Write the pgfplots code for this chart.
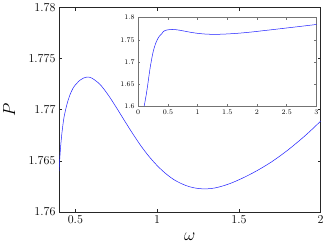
\documentclass[border=0pt]{standalone}
\usepackage{pgfplots}
\pgfplotsset{compat=1.18}
\usepackage{pgfplotstable}

% P(omega)
\pgfplotstableread{
x y
0.400 1.7640
0.408 1.7660
0.417 1.7676
0.430 1.7692
0.448 1.7705
0.468 1.7715
0.489 1.7722
0.510 1.7726
0.529 1.7729
0.550 1.7731
0.571 1.7732
0.600 1.7731
0.650 1.77249
0.700 1.77146
0.750 1.77023
0.800 1.76894
0.850 1.76767
0.900 1.76648
0.950 1.76543
1.000 1.76453
1.050 1.76378
1.100 1.76318
1.150 1.76275
1.200 1.76245
1.250 1.76229
1.300 1.76225
1.350 1.76233
1.400 1.76253
1.450 1.76280
1.500 1.76314
1.550 1.76352
1.600 1.76394
1.650 1.76440
1.700 1.76490
1.750 1.76546
1.800 1.76606
1.850 1.76671
1.900 1.76739
1.950 1.76812
2.000 1.76889
}\maindata

\pgfplotstableread{
x y
0.100 1.600
0.130 1.622
0.160 1.648
0.200 1.686
0.250 1.722
0.300 1.744
0.350 1.757
0.400 1.7640
}\risedata

\pgfplotstableread{
x y
2.000 1.76889
2.250 1.7727
2.500 1.7766
2.750 1.7805
3.000 1.7845
}\taildata

\definecolor{curve}{RGB}{30,30,255}

\begin{document}
\begin{tikzpicture}
\begin{axis}[
  name=main, at={(0,0)}, anchor=south west,
  scale only axis, width=260pt, height=203pt,
  xmin=0.4, xmax=2, ymin=1.76, ymax=1.78,
  xtick={0.5,1,1.5,2}, xticklabels={0.5,1,1.5,2},
  ytick={1.76,1.765,1.77,1.775,1.78},
  yticklabels={1.76,1.765,1.77,1.775,1.78},
  tick align=inside, major tick length=3pt,
  axis line style={black!85, line width=0.6pt},
  tick style={black!85, line width=0.5pt},
  ticklabel style={font=\fontsize{12}{14}\selectfont},
  xlabel={$\omega$}, ylabel={$P$},
  label style={font=\LARGE},
  xlabel style={at={(axis description cs:0.5,-0.12)}, anchor=center},
  ylabel style={at={(axis description cs:-0.19,0.5)}, anchor=center},
]
\addplot[curve, line width=0.5pt, smooth] table {\maindata};
\end{axis}

\begin{axis}[
  at={(78.7pt,105pt)}, anchor=south west,
  scale only axis, width=177pt, height=88pt,
  xmin=0, xmax=3, ymin=1.6, ymax=1.8,
  xtick={0,0.5,1,1.5,2,2.5,3}, xticklabels={0,0.5,1,1.5,2,2.5,3},
  ytick={1.6,1.65,1.7,1.75,1.8}, yticklabels={1.6,1.65,1.7,1.75,1.8},
  tick align=inside, major tick length=2pt,
  axis background/.style={fill=white},
  axis line style={black!55, line width=0.6pt},
  tick style={black!55, line width=0.4pt},
  ticklabel style={font=\fontsize{7}{8}\selectfont},
]
\addplot[curve, line width=0.5pt, smooth] table {\risedata};
\addplot[curve, line width=0.5pt, smooth] table {\maindata};
\addplot[curve, line width=0.5pt, smooth] table {\taildata};
\end{axis}
\end{tikzpicture}
\end{document}
